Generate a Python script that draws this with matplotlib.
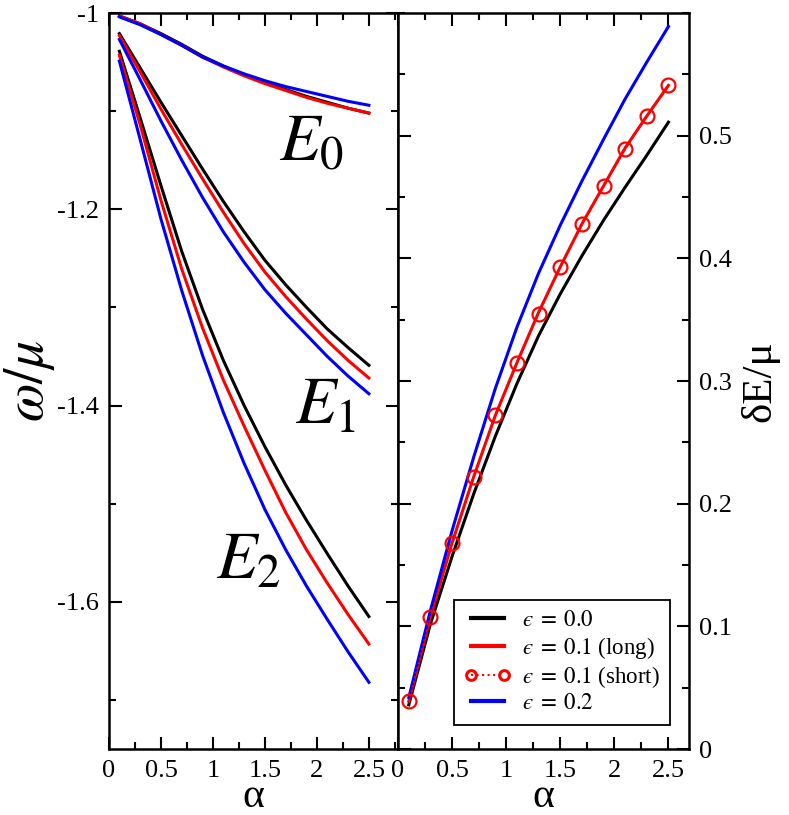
import matplotlib
matplotlib.use('Agg')
import matplotlib.pyplot as plt
from matplotlib.ticker import MultipleLocator

plt.rcParams['font.family'] = 'serif'
plt.rcParams['font.serif'] = ['Liberation Serif', 'DejaVu Serif']
plt.rcParams['mathtext.fontset'] = 'stix'

# valeurs de alpha
alpha = [0.1, 0.3, 0.5, 0.7, 0.9, 1.1, 1.3, 1.5, 1.7, 1.9, 2.1, 2.3, 2.5]

# niveaux E0, E1, E2 (omega/mu) pour eps = 0.0, 0.1 (long), 0.2
e0_eps00 = [-1.003, -1.011, -1.021, -1.032, -1.044, -1.054, -1.063, -1.071, -1.078, -1.085, -1.091, -1.097, -1.102]
e0_eps01 = [-1.003, -1.011, -1.022, -1.033, -1.045, -1.055, -1.064, -1.072, -1.079, -1.086, -1.092, -1.097, -1.102]
e0_eps02 = [-1.004, -1.012, -1.022, -1.033, -1.045, -1.054, -1.062, -1.069, -1.075, -1.080, -1.085, -1.090, -1.094]

e1_eps00 = [-1.021, -1.056, -1.091, -1.125, -1.159, -1.192, -1.223, -1.252, -1.277, -1.300, -1.322, -1.341, -1.359]
e1_eps01 = [-1.023, -1.060, -1.098, -1.134, -1.169, -1.203, -1.235, -1.264, -1.289, -1.312, -1.334, -1.354, -1.372]
e1_eps02 = [-1.027, -1.068, -1.110, -1.150, -1.188, -1.223, -1.254, -1.282, -1.306, -1.328, -1.350, -1.370, -1.388]

e2_eps00 = [-1.039, -1.107, -1.176, -1.243, -1.302, -1.354, -1.400, -1.442, -1.481, -1.517, -1.551, -1.584, -1.615]
e2_eps01 = [-1.043, -1.114, -1.191, -1.261, -1.321, -1.374, -1.421, -1.466, -1.509, -1.547, -1.581, -1.613, -1.643]
e2_eps02 = [-1.049, -1.129, -1.210, -1.283, -1.349, -1.407, -1.459, -1.506, -1.547, -1.584, -1.618, -1.651, -1.682]

# ecart dE/mu
de_eps00 = [0.036, 0.102, 0.157, 0.208, 0.255, 0.298, 0.337, 0.371, 0.402, 0.431, 0.458, 0.484, 0.511]
de_eps01_long = [0.039, 0.108, 0.168, 0.222, 0.272, 0.315, 0.356, 0.393, 0.428, 0.459, 0.490, 0.516, 0.541]
de_eps01_short = [0.039, 0.108, 0.168, 0.222, 0.272, 0.315, 0.355, 0.393, 0.428, 0.459, 0.489, 0.516, 0.541]
de_eps02 = [0.042, 0.113, 0.178, 0.238, 0.294, 0.344, 0.388, 0.427, 0.463, 0.497, 0.530, 0.560, 0.589]

xticks = [0, 0.5, 1, 1.5, 2, 2.5]
xticklabels = ['0', '0.5', '1', '1.5', '2', '2.5']
yticks_left = [-1.0, -1.2, -1.4, -1.6]
yticklabels_left = ['-1', '-1.2', '-1.4', '-1.6']
yticks_right = [0, 0.1, 0.2, 0.3, 0.4, 0.5]
yticklabels_right = ['0', '0.1', '0.2', '0.3', '0.4', '0.5']

W, H = 789, 815
fig = plt.figure(figsize=(W / 100, H / 100), dpi=100)
ax1 = fig.add_axes([109 / W, 1 - 749 / H, 289 / W, 736 / H])
ax2 = fig.add_axes([398 / W, 1 - 749 / H, 291 / W, 736 / H])

lw = 2.2
for e0, e1, e2, c in [(e0_eps00, e1_eps00, e2_eps00, 'black'),
                      (e0_eps01, e1_eps01, e2_eps01, 'red'),
                      (e0_eps02, e1_eps02, e2_eps02, 'blue')]:
    ax1.plot(alpha, e0, color=c, lw=lw)
    ax1.plot(alpha, e1, color=c, lw=lw)
    ax1.plot(alpha, e2, color=c, lw=lw)

ax1.text(1.95, -1.133, r'$E_0$', fontsize=48, ha='center', va='center')
ax1.text(2.08, -1.401, r'$E_1$', fontsize=48, ha='center', va='center')
ax1.text(1.34, -1.559, r'$E_2$', fontsize=48, ha='center', va='center')

eps = '\u03f5'
h0, = ax2.plot(alpha, de_eps00, color='black', lw=lw, label='$' + eps + r'\;=\;0.0$')
h1, = ax2.plot(alpha, de_eps01_long, color='red', lw=lw, label='$' + eps + r'\;=\;0.1$ (long)')
h3, = ax2.plot(alpha, de_eps02, color='blue', lw=lw, label='$' + eps + r'\;=\;0.2$')
h2, = ax2.plot(alpha, de_eps01_short, color='red', lw=1.3, ls=':', marker='o',
               ms=10, mfc='none', mec='red', mew=1.6, label='$' + eps + r'\;=\;0.1$ (short)')

ax1.set_xlim(0, 2.78)
ax1.set_ylim(-1.75, -1.0)
ax2.set_xlim(0, 2.69)
ax2.set_ylim(0, 0.6)

for ax in (ax1, ax2):
    ax.set_xticks(xticks)
    ax.set_xticklabels(xticklabels)
    ax.xaxis.set_minor_locator(MultipleLocator(0.25))
    ax.tick_params(which='both', direction='in', top=True, bottom=True,
                   left=True, right=True, width=1.5, labelsize=19)
    ax.tick_params(which='major', length=9)
    ax.tick_params(which='minor', length=5)
    ax.tick_params(axis='x', pad=8)
    ax.tick_params(axis='y', pad=7)
    for s in ax.spines.values():
        s.set_linewidth(1.8)
    ax.set_xlabel('α', fontsize=30, labelpad=-3)

ax1.set_yticks(yticks_left)
ax1.set_yticklabels(yticklabels_left)
ax1.yaxis.set_minor_locator(MultipleLocator(0.1))
ax1.set_ylabel(r'$\omega/\mu$', fontsize=40, labelpad=0)

ax2.set_yticks(yticks_right)
ax2.set_yticklabels(yticklabels_right)
ax2.yaxis.set_minor_locator(MultipleLocator(0.05))
ax2.yaxis.tick_right()
ax2.tick_params(which='both', left=True, right=True, labelleft=False, labelright=True)
ax2.yaxis.set_label_position('right')
ax2.set_ylabel('δE/μ', fontsize=31, labelpad=6)

leg = ax2.legend(handles=[h0, h1, h2, h3], loc='lower right',
                 bbox_to_anchor=(0.935, 0.033), borderaxespad=0,
                 fontsize=16.5, handlelength=2.0, handletextpad=0.5,
                 labelspacing=0.15, borderpad=0.45, fancybox=False,
                 framealpha=1, edgecolor='black', numpoints=2)
leg.get_frame().set_linewidth(1.3)
for lh in leg.legend_handles:
    lh.set_linewidth(3.0)
leg.legend_handles[2].set_linewidth(1.5)
leg.legend_handles[2].set_markersize(7)
leg.legend_handles[2].set_markeredgewidth(2.2)

fig.savefig('out.png', dpi=100)
